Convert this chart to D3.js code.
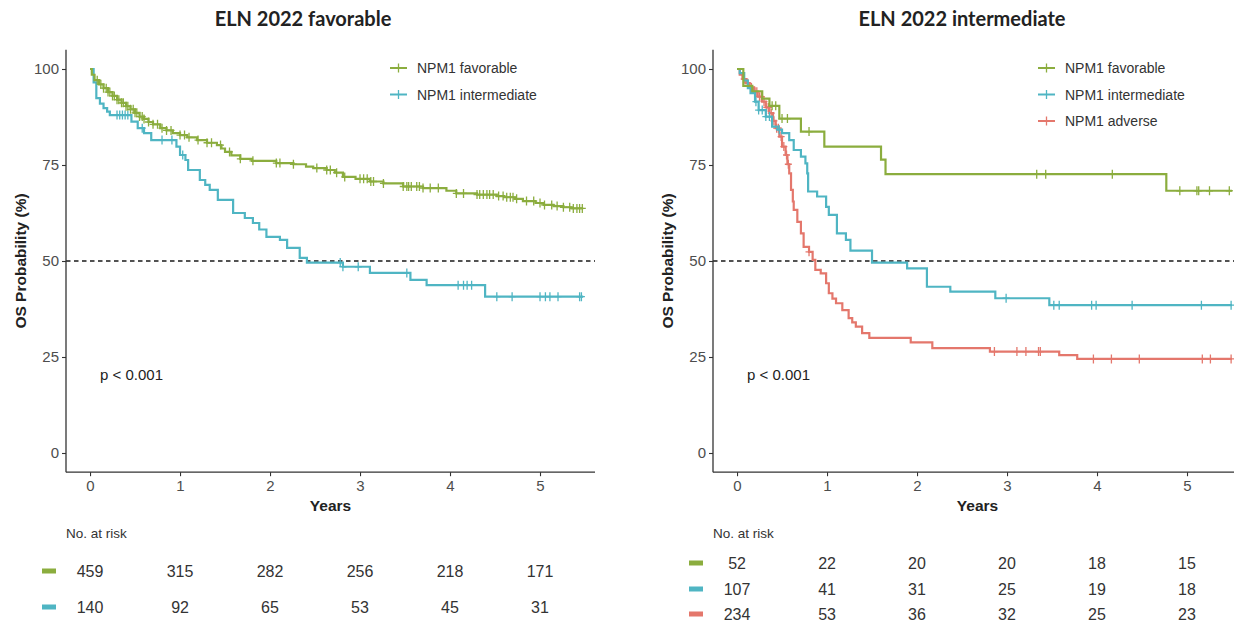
<!DOCTYPE html>
<html>
<head>
<meta charset="utf-8">
<script src="https://cdn.jsdelivr.net/npm/d3@7"></script>
<style>
  html, body { margin: 0; padding: 0; background: #fff; }
  svg { display: block; }
</style>
</head>
<body>
<svg id="chart" width="1234" height="622"></svg>
<script>
// ---------------- DATA ----------------
const xTicks = [0, 1, 2, 3, 4, 5];
const yTicks = [0, 25, 50, 75, 100];

// Left panel: ELN 2022 favorable
const favFavTimes = [0, 0.02, 0.05, 0.1, 0.15, 0.2, 0.25, 0.3, 0.35, 0.4, 0.45, 0.5, 0.55, 0.6, 0.65, 0.7, 0.78, 0.85, 0.92, 1.0, 1.08, 1.19, 1.3, 1.41, 1.46, 1.5, 1.57, 1.67, 1.8, 2.07, 2.26, 2.4, 2.48, 2.63, 2.72, 2.81, 2.95, 3.11, 3.26, 3.48, 3.7, 3.96, 4.07, 4.3, 4.52, 4.6, 4.72, 4.81, 4.95, 5.04, 5.15, 5.26, 5.35];
const favFavSurv  = [100, 98.5, 97.1, 96, 95, 94, 93, 92, 91.2, 90.3, 89.5, 88.6, 87.6, 87, 86.2, 85.6, 84.6, 84, 83.3, 82.8, 82.2, 81.5, 80.8, 80.2, 79.3, 78.4, 77.5, 76.6, 76.1, 75.5, 75.2, 74.6, 74.2, 73.7, 73.0, 71.9, 71.4, 70.7, 70.2, 69.4, 69.0, 68.3, 67.6, 67.3, 66.9, 66.6, 66.2, 65.6, 65.1, 64.6, 64.3, 64.0, 63.7];
const favFavCens  = [0.08, 0.12, 0.15, 0.18, 0.2, 0.22, 0.25, 0.27, 0.3, 0.32, 0.35, 0.37, 0.4, 0.42, 0.45, 0.48, 0.5, 0.52, 0.55, 0.58, 0.6, 0.65, 0.7, 0.75, 0.8, 0.85, 0.9, 1.0, 1.05, 1.1, 1.2, 1.3, 1.35, 1.45, 1.55, 1.67, 1.81, 2.07, 2.11, 2.26, 2.52, 2.63, 2.67, 2.74, 2.83, 3.0, 3.04, 3.08, 3.12, 3.15, 3.26, 3.48, 3.52, 3.54, 3.57, 3.63, 3.66, 3.70, 3.78, 3.87, 4.07, 4.15, 4.30, 4.33, 4.37, 4.41, 4.44, 4.48, 4.54, 4.59, 4.63, 4.67, 4.70, 4.74, 4.85, 4.93, 5.0, 5.05, 5.13, 5.19, 5.26, 5.33, 5.37, 5.41, 5.44, 5.47];
const favFavEnd = 5.48;

const favIntTimes = [0, 0.04, 0.07, 0.11, 0.15, 0.19, 0.22, 0.46, 0.53, 0.6, 0.68, 0.96, 1.0, 1.06, 1.09, 1.22, 1.28, 1.33, 1.42, 1.59, 1.72, 1.81, 1.88, 1.96, 2.11, 2.19, 2.33, 2.41, 2.81, 3.11, 3.56, 3.74, 4.39];
const favIntSurv  = [100, 96.5, 92.4, 91, 89.8, 88.9, 88, 86.3, 84.6, 83.3, 81.5, 79.8, 77.6, 76.3, 73.7, 71.1, 69.8, 68.5, 65.9, 62.5, 61.2, 59.9, 58.2, 56.3, 55.5, 53.4, 50.8, 49.6, 48.5, 46.9, 45.1, 43.7, 40.7];
const favIntCens  = [0.30, 0.33, 0.36, 0.39, 0.42, 0.58, 0.8, 0.91, 1.03, 2.78, 2.81, 2.98, 3.52, 4.09, 4.15, 4.19, 4.24, 4.52, 4.69, 5.0, 5.06, 5.11, 5.2, 5.44, 5.46];
const favIntEnd = 5.48;

// Right panel: ELN 2022 intermediate
const intFavTimes = [0, 0.07, 0.17, 0.28, 0.36, 0.47, 0.71, 0.97, 1.6, 1.65, 4.77];
const intFavSurv  = [100, 95.6, 94.2, 92.3, 90.4, 87.1, 83.7, 79.8, 76.4, 72.6, 68.3];
const intFavCens  = [0.39, 0.43, 0.5, 0.56, 0.8, 3.33, 3.43, 4.17, 4.92, 5.11, 5.13, 5.25, 5.47];
const intFavEnd = 5.5;

const intIntTimes = [0, 0.03, 0.08, 0.12, 0.15, 0.2, 0.24, 0.32, 0.39, 0.45, 0.5, 0.58, 0.63, 0.71, 0.76, 0.78, 0.79, 0.89, 0.99, 1.02, 1.11, 1.21, 1.26, 1.5, 1.89, 2.11, 2.37, 2.87, 3.47];
const intIntSurv  = [100, 98.9, 97, 95, 93.7, 91.5, 89.3, 87.6, 85, 84.2, 83.3, 81.5, 78.9, 77.2, 75.4, 72.8, 68.1, 66.8, 64.1, 62, 57.2, 55.5, 52.7, 49.6, 48.1, 43.3, 42.0, 40.3, 38.5];
const intIntCens  = [0.21, 0.24, 0.28, 0.32, 0.36, 0.47, 2.99, 3.52, 3.58, 3.94, 3.99, 4.39, 5.16, 5.49];
const intIntEnd = 5.5;

const intAdvTimes = [0, 0.03, 0.06, 0.1, 0.14, 0.19, 0.23, 0.28, 0.32, 0.36, 0.4, 0.43, 0.47, 0.5, 0.54, 0.56, 0.58, 0.6, 0.62, 0.63, 0.67, 0.71, 0.74, 0.8, 0.84, 0.87, 0.93, 0.99, 1.02, 1.06, 1.1, 1.17, 1.24, 1.28, 1.32, 1.39, 1.47, 1.93, 2.17, 2.81, 3.58, 3.78];
const intAdvSurv  = [100, 98.5, 97.4, 96.3, 95.2, 94.1, 92.8, 91.5, 90, 88.5, 86.5, 84.6, 82.4, 79.8, 77.6, 75.2, 72.8, 68.5, 65.5, 63.3, 60.2, 57.2, 53.7, 52.4, 50.3, 47.7, 46.8, 44.2, 41.6, 40.2, 39.0, 37.2, 35.1, 34.0, 32.9, 31.2, 30.0, 28.8, 27.3, 26.4, 25.5, 24.5];
const intAdvCens  = [0.08, 0.12, 0.16, 0.2, 0.22, 0.25, 0.27, 0.3, 0.33, 0.35, 0.38, 0.41, 0.44, 0.46, 0.49, 0.52, 0.55, 0.57, 0.8, 2.86, 3.11, 3.21, 3.35, 3.37, 3.96, 4.16, 4.47, 5.17, 5.26, 5.49];
const intAdvEnd = 5.5;

// Risk tables
const riskFavFav = [459, 315, 282, 256, 218, 171];
const riskFavInt = [140, 92, 65, 53, 45, 31];
const riskIntFav = [52, 22, 20, 20, 18, 15];
const riskIntInt = [107, 41, 31, 25, 19, 18];
const riskIntAdv = [234, 53, 36, 32, 25, 23];

const seriesNames = ["NPM1 favorable", "NPM1 intermediate", "NPM1 adverse"];
const panelTitles = ["ELN 2022 favorable", "ELN 2022 intermediate"];
const pValues = ["p < 0.001", "p < 0.001"];

// ---------------- STYLE ----------------
const COLORS = ["#8BAD3E", "#4FB5C3", "#E4776C"];
const svg = d3.select("#chart");
const FONT = "'Liberation Sans', Arial, Helvetica, sans-serif";

const panels = [
  {
    title: panelTitles[0], titleX: 303, x0: 66, x1: 595, p: pValues[0],
    series: [
      {name: seriesNames[0], color: COLORS[0], times: favFavTimes, surv: favFavSurv, cens: favFavCens, end: favFavEnd, risk: riskFavFav},
      {name: seriesNames[1], color: COLORS[1], times: favIntTimes, surv: favIntSurv, cens: favIntCens, end: favIntEnd, risk: riskFavInt}
    ],
    legendX: 390, riskRowsY: [571, 607]
  },
  {
    title: panelTitles[1], titleX: 962, x0: 713, x1: 1242, p: pValues[1],
    series: [
      {name: seriesNames[0], color: COLORS[0], times: intFavTimes, surv: intFavSurv, cens: intFavCens, end: intFavEnd, risk: riskIntFav},
      {name: seriesNames[1], color: COLORS[1], times: intIntTimes, surv: intIntSurv, cens: intIntCens, end: intIntEnd, risk: riskIntInt},
      {name: seriesNames[2], color: COLORS[2], times: intAdvTimes, surv: intAdvSurv, cens: intAdvCens, end: intAdvEnd, risk: riskIntAdv}
    ],
    legendX: 1038, riskRowsY: [563, 589, 614]
  }
];

const yTop = 49.8, yBot = 472.2;

function survAt(times, surv, t) {
  let s = surv[0];
  for (let i = 0; i < times.length; i++) { if (times[i] <= t) s = surv[i]; }
  return s;
}

panels.forEach(P => {
  const x = d3.scaleLinear().domain([-0.267, 5.611]).range([P.x0, P.x1]);
  const y = d3.scaleLinear().domain([-5, 105]).range([yBot, yTop]);
  const g = svg.append("g");

  const clipId = "clip" + P.x0;
  svg.append("clipPath").attr("id", clipId).append("rect")
    .attr("x", P.x0).attr("y", yTop - 10).attr("width", P.x1 - P.x0).attr("height", yBot - yTop + 10);

  // title
  g.append("text").attr("x", P.titleX).attr("y", 26).attr("text-anchor", "middle")
    .attr("font-family", "Lato, 'Open Sans', sans-serif").attr("font-weight", "bold")
    .attr("font-size", 20).attr("fill", "#222").text(P.title);

  // dashed median line
  g.append("line").attr("x1", P.x0).attr("x2", P.x1).attr("y1", y(50)).attr("y2", y(50))
    .attr("stroke", "#1a1a1a").attr("stroke-width", 1.4).attr("stroke-dasharray", "4.5,3.5");

  // curves
  const plot = g.append("g").attr("clip-path", `url(#${clipId})`);
  const line = d3.line().x(d => x(d[0])).y(d => y(d[1])).curve(d3.curveStepAfter);
  P.series.slice().reverse().forEach(S => {
    const pts = S.times.map((t, i) => [t, S.surv[i]]);
    pts.push([S.end, S.surv[S.surv.length - 1]]);
    plot.append("path").attr("d", line(pts)).attr("fill", "none")
      .attr("stroke", S.color).attr("stroke-width", 2.2);
    const cg = plot.append("g").attr("stroke", S.color).attr("stroke-width", 1.3);
    S.cens.forEach(t => {
      const cx = x(t), cy = y(survAt(S.times, S.surv, t));
      cg.append("line").attr("x1", cx).attr("x2", cx).attr("y1", cy - 4.5).attr("y2", cy + 4.5);
      cg.append("line").attr("x1", cx - 3.5).attr("x2", cx + 3.5).attr("y1", cy).attr("y2", cy);
    });
  });

  // axes
  const xAxis = d3.axisBottom(x).tickValues(xTicks).tickSize(4).tickPadding(4).tickFormat(d3.format("d"));
  const yAxis = d3.axisLeft(y).tickValues(yTicks).tickSize(4).tickPadding(3).tickFormat(d3.format("d"));
  const gx = g.append("g").attr("transform", `translate(0,${yBot})`).call(xAxis);
  const gy = g.append("g").attr("transform", `translate(${P.x0},0)`).call(yAxis);
  [gx, gy].forEach(a => {
    a.select(".domain").attr("stroke", "#333").attr("stroke-width", 1.3);
    a.selectAll(".tick line").attr("stroke", "#333").attr("stroke-width", 1.1);
    a.selectAll(".tick text").attr("font-family", FONT).attr("font-size", 15).attr("fill", "#4d4d4d");
  });
  gx.select(".domain").attr("d", `M${P.x0},0H${P.x1}`);
  gy.select(".domain").attr("d", `M0,${yTop}V${yBot}`);

  // axis titles
  g.append("text").attr("x", (P.x0 + P.x1) / 2).attr("y", 511).attr("text-anchor", "middle")
    .attr("font-family", FONT).attr("font-weight", "bold").attr("font-size", 15.5).attr("fill", "#222").text("Years");
  g.append("text").attr("transform", `translate(${P.x0 - 40},${(yTop + yBot) / 2}) rotate(-90)`)
    .attr("text-anchor", "middle").attr("font-family", FONT).attr("font-weight", "bold")
    .attr("font-size", 15.5).attr("fill", "#222").text("OS Probability (%)");

  // p value
  g.append("text").attr("x", x(0) + 10).attr("y", y(20) + 4).attr("font-family", FONT)
    .attr("font-size", 15).attr("fill", "#222").text(P.p);

  // legend
  const lg = g.append("g");
  P.series.forEach((S, i) => {
    const ly = 68 + i * 26.5;
    lg.append("line").attr("x1", P.legendX).attr("x2", P.legendX + 17).attr("y1", ly).attr("y2", ly)
      .attr("stroke", S.color).attr("stroke-width", 2);
    const mx = P.legendX + 8.5;
    lg.append("line").attr("x1", mx).attr("x2", mx).attr("y1", ly - 4.5).attr("y2", ly + 4.5)
      .attr("stroke", S.color).attr("stroke-width", 1.3);
    lg.append("text").attr("x", P.legendX + 27).attr("y", ly + 5).attr("font-family", FONT)
      .attr("font-size", 14).attr("fill", "#333").text(S.name);
  });

  // risk table
  g.append("text").attr("x", P.x0).attr("y", 538).attr("font-family", FONT)
    .attr("font-size", 13.5).attr("fill", "#333").text("No. at risk");
  P.series.forEach((S, i) => {
    const ry = P.riskRowsY[i];
    g.append("rect").attr("x", P.x0 - 24).attr("y", ry - 2.5).attr("width", 14).attr("height", 5)
      .attr("fill", S.color);
    S.risk.forEach((n, k) => {
      g.append("text").attr("x", x(xTicks[k])).attr("y", ry + 6).attr("text-anchor", "middle")
        .attr("font-family", FONT).attr("font-size", 16).attr("fill", "#333").text(n);
    });
  });
});
</script>
</body>
</html>
